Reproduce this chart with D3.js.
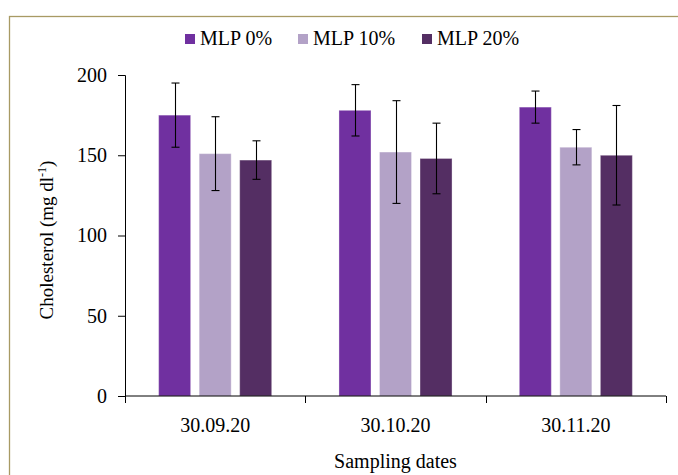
<!DOCTYPE html>
<html>
<head>
<meta charset="utf-8">
<script src="https://d3js.org/d3.v7.min.js"></script>
<style>
  body { margin: 0; background: #fff; }
</style>
</head>
<body>
<div id="chart"></div>
<script>
// sampling dates on the x axis
const dates = ['30.09.20', '30.10.20', '30.11.20'];
const series = ['MLP 0%', 'MLP 10%', 'MLP 20%'];
const colors = ['#7030a0', '#b3a2c7', '#542e63'];

// means and error values, one array per series
const mlp0 = [175, 178, 180];
const mlp10 = [151, 152, 155];
const mlp20 = [147, 148, 150];
const err0 = [20, 16, 10];
const err10 = [23, 32, 11];
const err20 = [12, 22, 31];

const yTicks = [0, 50, 100, 150, 200];

const values = [mlp0, mlp10, mlp20];
const errors = [err0, err10, err20];

const FONT = "Liberation Serif, Times New Roman, Tinos, DejaVu Serif, Noto Serif, serif";
const width = 678, height = 475;
const margin = { top: 75, right: 12, bottom: 79, left: 125 };

const svg = d3.select('#chart').append('svg')
  .attr('width', width)
  .attr('height', height)
  .style('font-family', FONT);

// outer frame
svg.append('rect')
  .attr('x', 9.5).attr('y', 16.5)
  .attr('width', 700).attr('height', 500)
  .attr('fill', 'none')
  .attr('stroke', '#a89a64')
  .attr('stroke-width', 1.3);

const x0 = d3.scaleBand()
  .domain(dates)
  .range([margin.left, width - margin.right]);

const x1 = d3.scaleBand()
  .domain(series)
  .range([0, x0.bandwidth()])
  .paddingInner(0.21)
  .paddingOuter(0.83);

const y = d3.scaleLinear()
  .domain([0, 200])
  .range([height - margin.bottom, margin.top]);

// bars
const rows = [];
dates.forEach((d, i) => {
  series.forEach((s, j) => {
    rows.push({ date: d, s: s, j: j, v: values[j][i], e: errors[j][i] });
  });
});

svg.append('g')
  .selectAll('rect')
  .data(rows)
  .join('rect')
  .attr('x', d => x0(d.date) + x1(d.s))
  .attr('y', d => y(d.v))
  .attr('width', x1.bandwidth())
  .attr('height', d => y(0) - y(d.v))
  .attr('fill', d => colors[d.j])
  .attr('stroke', 'rgba(255,255,255,0.35)')
  .attr('stroke-width', 1);

// error bars
const eb = svg.append('g')
  .attr('stroke', '#000')
  .attr('stroke-width', 1.1);

rows.forEach(d => {
  const cx = Math.round(x0(d.date) + x1(d.s) + x1.bandwidth() / 2) + 0.5;
  eb.append('line')
    .attr('x1', cx).attr('x2', cx)
    .attr('y1', y(d.v + d.e)).attr('y2', y(d.v - d.e));
  [d.v + d.e, d.v - d.e].forEach(t => {
    eb.append('line')
      .attr('x1', cx - 4).attr('x2', cx + 4)
      .attr('y1', y(t)).attr('y2', y(t));
  });
});

// y axis
const yAxis = svg.append('g')
  .attr('transform', `translate(${margin.left},0)`)
  .call(d3.axisLeft(y).tickValues(yTicks).tickSize(7).tickPadding(11));
yAxis.attr('font-family', null).attr('font-size', null);
yAxis.selectAll('text').style('font-family', FONT).style('font-size', '20px').attr('fill', '#000');
yAxis.selectAll('line, path').attr('stroke', '#000');

// x axis with ticks at category boundaries
const xAxis = svg.append('g')
  .attr('transform', `translate(0,${y(0)})`);
xAxis.append('line')
  .attr('x1', margin.left).attr('x2', width - margin.right)
  .attr('stroke', '#000');
const bounds = dates.map(d => x0(d)).concat([x0(dates[dates.length - 1]) + x0.bandwidth()]);
xAxis.selectAll('.tk')
  .data(bounds)
  .join('line')
  .attr('x1', d => Math.round(d) + 0.5).attr('x2', d => Math.round(d) + 0.5)
  .attr('y1', 0).attr('y2', 7)
  .attr('stroke', '#000');
xAxis.selectAll('.lbl')
  .data(dates)
  .join('text')
  .attr('x', d => x0(d) + x0.bandwidth() / 2)
  .attr('y', 36)
  .attr('text-anchor', 'middle')
  .style('font-family', FONT)
  .style('font-size', '20px')
  .text(d => d);

// axis titles
svg.append('text')
  .attr('x', (margin.left + width - margin.right) / 2)
  .attr('y', 468)
  .attr('text-anchor', 'middle')
  .style('font-family', FONT)
  .style('font-size', '20px')
  .text('Sampling dates');

const yt = svg.append('text')
  .attr('transform', 'translate(53,240) rotate(-90)')
  .attr('text-anchor', 'middle')
  .style('font-family', FONT)
  .style('font-size', '19px');
yt.append('tspan').text('Cholesterol (mg dl');
yt.append('tspan').attr('dy', -7).style('font-size', '12px').text('-1');
yt.append('tspan').attr('dy', 7).text(')');

// legend
const legendX = [185, 298, 422];
const lg = svg.append('g');
series.forEach((s, j) => {
  lg.append('rect')
    .attr('x', legendX[j]).attr('y', 34)
    .attr('width', 10).attr('height', 10)
    .attr('fill', colors[j]);
  lg.append('text')
    .attr('x', legendX[j] + 15).attr('y', 45)
    .style('font-family', FONT)
    .style('font-size', '20px')
    .text(s);
});
</script>
</body>
</html>
